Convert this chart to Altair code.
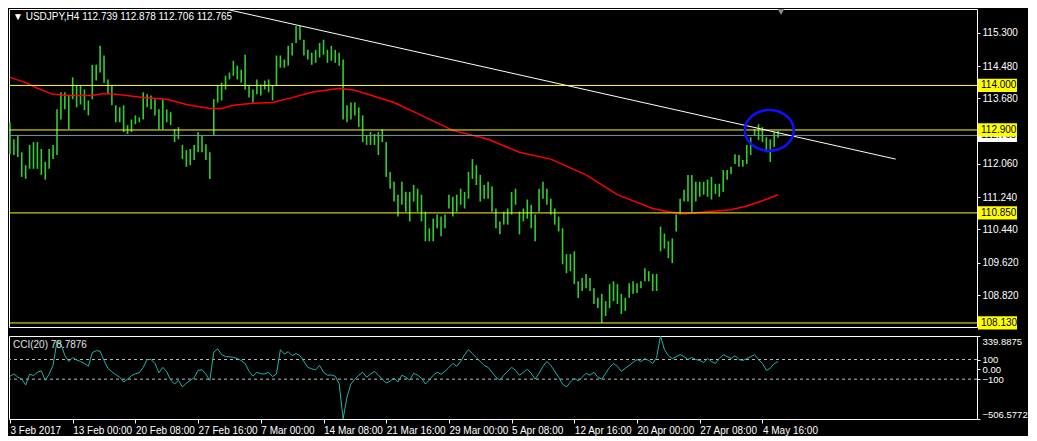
import json
import altair as alt
import pandas as pd

# ---------------- data ----------------
HIGH = [113.09,112.67,112.77,112.35,112.03,112.53,112.60,112.60,112.43,112.11,
        112.43,112.53,113.41,113.83,113.83,113.75,114.20,114.00,114.00,113.90,
        113.63,114.51,114.51,114.98,114.74,114.15,114.00,113.51,113.46,113.51,
        113.02,113.16,113.26,113.21,113.83,113.78,113.75,113.66,113.41,113.66,
        113.41,113.34,112.92,112.97,112.53,112.40,112.43,112.53,112.85,112.77,
        112.55,112.35,113.66,114.00,114.07,114.24,114.32,114.61,114.49,114.39,
        114.76,114.00,113.90,114.15,114.02,114.12,114.15,114.00,114.74,114.74,
        114.64,114.98,115.05,115.47,115.47,115.13,114.88,114.81,114.88,115.05,
        115.13,114.88,114.98,114.88,114.81,114.64,113.51,113.58,113.58,113.46,
        113.26,112.77,112.85,112.80,112.85,112.92,112.60,111.86,111.62,111.30,
        111.62,111.37,111.37,111.54,111.45,111.30,110.88,110.47,110.71,110.81,
        110.76,110.81,111.30,111.25,111.30,111.45,111.37,111.86,112.18,112.03,
        111.79,111.54,111.62,111.50,110.96,110.64,110.88,110.96,111.37,111.45,
        110.88,110.96,111.18,111.05,110.81,111.45,111.62,111.45,111.20,110.96,
        110.76,110.47,109.83,109.83,109.90,109.16,109.24,109.34,109.24,108.99,
        108.75,108.85,108.67,109.09,109.16,109.09,108.85,108.75,109.11,109.16,
        109.11,109.16,109.48,109.41,109.34,109.34,110.51,110.34,110.15,110.22,
        110.81,111.20,111.42,111.79,111.79,111.62,111.62,111.62,111.67,111.74,
        111.57,111.57,111.91,111.91,111.99,112.30,112.28,112.16,112.53,112.72,
        112.92,113.04,112.97,112.72,112.67,112.85,112.88]

LOW = [112.30,112.28,112.23,111.74,111.69,111.94,111.94,111.94,111.79,111.67,
       111.94,112.18,112.28,113.16,113.41,112.92,113.66,113.46,113.53,113.39,
       113.26,113.66,114.12,114.32,114.07,113.78,113.51,113.09,113.09,112.85,
       112.80,112.85,113.04,113.09,113.16,113.46,113.41,113.26,112.92,112.92,
       113.09,113.02,112.60,112.67,112.18,111.99,112.03,112.16,112.35,112.35,
       112.16,111.69,112.77,113.58,113.63,113.90,114.15,114.24,114.15,114.07,
       113.90,113.70,113.58,113.78,113.75,113.90,113.83,113.63,114.00,114.44,
       114.44,114.49,114.74,115.05,115.13,114.74,114.64,114.51,114.56,114.69,
       114.76,114.56,114.61,114.56,114.49,113.16,113.09,113.16,113.26,112.97,
       112.60,112.53,112.53,112.53,112.28,112.60,111.74,111.45,111.13,110.76,
       111.05,110.88,110.64,111.13,110.88,110.64,110.15,110.15,110.15,110.47,
       110.27,110.47,110.96,110.76,110.88,111.05,110.96,111.20,111.69,111.54,
       111.13,111.20,111.20,110.88,110.47,110.32,110.56,110.56,110.81,111.05,
       110.32,110.64,110.71,110.47,110.15,110.88,111.20,111.05,110.81,110.56,
       110.39,109.58,109.36,109.41,109.09,108.75,108.92,108.99,108.92,108.60,
       108.50,108.13,108.30,108.50,108.67,108.60,108.35,108.43,108.75,108.85,
       108.87,108.99,109.16,109.16,108.92,108.92,109.90,109.97,109.73,109.61,
       110.39,110.81,111.13,111.13,110.88,111.13,111.25,111.30,111.25,111.18,
       111.32,111.25,111.37,111.67,111.81,112.06,111.99,111.99,112.06,112.28,
       112.77,112.65,112.60,112.35,112.11,112.48,112.71]

CCI = [-70,-47,-80,-100,-160,-50,-63,-30,-15,-113,
       -50,40,290,260,140,80,120,95,80,60,
       30,170,190,185,90,10,-25,-55,-80,-130,
       -100,-65,-45,-35,20,100,100,60,-35,20,
       -25,-110,-150,-113,-180,-140,-113,-85,-10,-5,
       -50,-113,175,210,150,130,127,123,110,90,
       60,-20,-70,-30,-45,-47,-30,-75,-47,200,
       155,180,140,160,140,80,20,5,-5,40,
       -30,-60,-58,-70,-147,-506.58,-280,-150,-100,-60,
       -30,-80,-50,-20,-60,-100,-140,-120,-90,-130,
       -60,-80,-110,-40,-60,-90,-150,-110,-60,-30,
       -50,-20,20,60,30,80,150,200,160,120,
       80,40,20,-30,-80,-110,-60,-20,20,-10,
       -60,-30,0,-40,-100,-40,30,80,40,-20,
       -80,-150,-180,-130,-90,-120,-80,-40,-60,-30,
       -80,-100,-40,20,60,30,-20,10,40,70,
       100,80,110,90,60,120,339.89,200,140,110,
       130,150,130,100,120,100,90,70,110,80,
       60,110,150,130,110,140,100,90,110,130,
       150,100,60,-10,10,60,78.79]

MA_IDX = [0,4,7,11,15,21,24,27,34,40,45,51,54,57,62,67,72,77,82,84,88,98,105,
          113,122,130,138,147,155,164,168,172,176,184,188,192,196]
MA_VAL = [114.20,114.07,113.93,113.78,113.75,113.75,113.80,113.78,113.70,113.66,
          113.53,113.43,113.43,113.51,113.56,113.58,113.70,113.83,113.90,113.93,
          113.88,113.58,113.26,112.89,112.67,112.35,112.18,111.79,111.30,110.96,
          110.88,110.83,110.86,110.93,111.02,111.15,111.30]

LEVELS = [114.000, 112.900, 110.850, 108.130]
BID = 112.765
TREND_IDX = [54.0, 226.0]
TREND_VAL = [115.91, 112.18]
CIRCLE_IDX = [193.75]
CIRCLE_VAL = [112.89]

PRICE_TICKS = [115.300, 114.480, 113.680, 112.060, 111.240,
               110.440, 109.620, 108.820, 108.000]
CCI_TICKS = [339.8875, 100, 0, -100, -506.5772]
X_TICKS = [0, 16, 32, 48, 64, 80, 96, 112, 128, 144, 160, 176, 192]
X_LABELS = ["3 Feb 2017", "13 Feb 00:00", "20 Feb 08:00", "27 Feb 16:00",
            "7 Mar 00:00", "14 Mar 08:00", "21 Mar 16:00", "29 Mar 00:00",
            "5 Apr 08:00", "12 Apr 16:00", "20 Apr 00:00", "27 Apr 08:00",
            "4 May 16:00"]

TITLE = "\u25bc USDJPY,H4  112.739 112.878 112.706 112.765"
CCI_TITLE = "CCI(20) 78.7876"

# ---------------- layout / style ----------------
W = 968
H1 = 318
H2 = 83
FONT = "Liberation Sans"
XDOM = [-0.25, 246.75]
PDOM = [108.03, 115.89]
CDOM = [-506.5772, 339.8875]

RECT = "M -1 -0.34 L 1 -0.34 L 1 0.34 L -1 0.34 Z"
ELLIPSE = ("M 1.2 0 C 1.2 0.5523 0.6628 1 0 1 C -0.6628 1 -1.2 0.5523 -1.2 0 "
           "C -1.2 -0.5523 -0.6628 -1 0 -1 C 0.6628 -1 1.2 -0.5523 1.2 0 Z")

xs = alt.Scale(domain=XDOM, nice=False, zero=False)
ps = alt.Scale(domain=PDOM, nice=False, zero=False)
cs = alt.Scale(domain=CDOM, nice=False, zero=False)

bars_df = pd.DataFrame({"i": list(range(len(HIGH))), "high": HIGH, "low": LOW, "cci": CCI})
ma_df = pd.DataFrame({"i": MA_IDX, "p": MA_VAL})
lev_df = pd.DataFrame({"p": LEVELS, "t": ["%.3f" % v for v in LEVELS]})
bid_df = pd.DataFrame({"p": [BID], "t": ["%.3f" % BID]})
trend_df = pd.DataFrame({"i": TREND_IDX, "p": TREND_VAL})
circ_df = pd.DataFrame({"i": CIRCLE_IDX, "p": CIRCLE_VAL})

price_axis = alt.Axis(orient="right", values=PRICE_TICKS, format=".3f", title=None,
                      grid=False, domain=False, tickSize=3, tickColor="#ffffff",
                      labelColor="#ffffff", labelPadding=2, labelFontSize=10,
                      labelFont=FONT, labelOverlap=False)

bars = alt.Chart(bars_df).mark_rule(color="#32cd32", strokeWidth=1.6, clip=True).encode(
    x=alt.X("i:Q", scale=xs, axis=None),
    y=alt.Y("high:Q", scale=ps, axis=price_axis),
    y2="low:Q",
)
ma = alt.Chart(ma_df).mark_line(color="#ff0000", strokeWidth=1.5, clip=True).encode(
    x=alt.X("i:Q", scale=xs, axis=None),
    y=alt.Y("p:Q", scale=ps, axis=None),
)
levels = alt.Chart(lev_df).mark_rule(color="#ffff00", strokeWidth=1).encode(
    y=alt.Y("p:Q", scale=ps, axis=None))
bid = alt.Chart(bid_df).mark_rule(color="#8090a0", strokeWidth=1).encode(
    y=alt.Y("p:Q", scale=ps, axis=None))
trend = alt.Chart(trend_df).mark_line(color="#ffffff", strokeWidth=1, clip=True).encode(
    x=alt.X("i:Q", scale=xs, axis=None),
    y=alt.Y("p:Q", scale=ps, axis=None),
)
circle = alt.Chart(circ_df).mark_point(shape=ELLIPSE, size=1666, filled=False,
                                       color="#1010ff", strokeWidth=2.5, opacity=1).encode(
    x=alt.X("i:Q", scale=xs, axis=None),
    y=alt.Y("p:Q", scale=ps, axis=None),
)
bid_box = alt.Chart(bid_df).mark_point(shape=RECT, size=39 * 39, filled=True,
                                       color="#ffffff", opacity=1, strokeWidth=0).encode(
    x=alt.value(W + 20.5), y=alt.Y("p:Q", scale=ps, axis=None))
bid_txt = alt.Chart(bid_df).mark_text(align="left", baseline="middle", color="#000000",
                                      fontSize=10, font=FONT).encode(
    x=alt.value(W + 4), y=alt.Y("p:Q", scale=ps, axis=None), text="t:N")
lev_box = alt.Chart(lev_df).mark_point(shape=RECT, size=39 * 39, filled=True,
                                       color="#ffff00", opacity=1, strokeWidth=0).encode(
    x=alt.value(W + 20.5), y=alt.Y("p:Q", scale=ps, axis=None))
lev_txt = alt.Chart(lev_df).mark_text(align="left", baseline="middle", color="#000000",
                                      fontSize=10, font=FONT).encode(
    x=alt.value(W + 4), y=alt.Y("p:Q", scale=ps, axis=None), text="t:N")
title = alt.Chart(pd.DataFrame({"t": [TITLE]})).mark_text(
    align="left", baseline="middle", color="#ffffff", fontSize=10, font=FONT).encode(
    x=alt.value(4), y=alt.value(8), text="t:N")
shift_mark = alt.Chart(pd.DataFrame({"t": [0]})).mark_point(
    shape="triangle-down", filled=True, color="#8a8a8a", size=45, opacity=1).encode(
    x=alt.value(772), y=alt.value(3))

main = alt.layer(bars, ma, levels, bid, trend, circle, bid_box, bid_txt,
                 lev_box, lev_txt, title, shift_mark).resolve_axis(
    y="independent", x="independent").properties(width=W, height=H1)

x_expr = json.dumps(X_LABELS) + "[round(datum.value / 16)]"
cci_expr = ("datum.value == 0 ? '0.00' : (abs(datum.value) == 100 ? "
            "format(datum.value, 'd') : format(datum.value, '.4f'))")

cci_line = alt.Chart(bars_df).mark_line(color="#20b2aa", strokeWidth=1, clip=True).encode(
    x=alt.X("i:Q", scale=xs, axis=alt.Axis(
        orient="bottom", values=X_TICKS, labelExpr=x_expr, labelAlign="left",
        labelFlush=False, labelOverlap=False, title=None, grid=False, domain=False,
        tickSize=4, tickColor="#ffffff", labelColor="#ffffff", labelPadding=2,
        labelFontSize=10, labelFont=FONT)),
    y=alt.Y("cci:Q", scale=cs, axis=alt.Axis(
        orient="right", values=CCI_TICKS, labelExpr=cci_expr, labelFlush=True,
        labelOverlap=False, title=None, grid=False, domain=False, tickSize=3,
        tickColor="#ffffff", labelColor="#ffffff", labelPadding=2,
        labelFontSize=9.5, labelFont=FONT)),
)
cci_lvls = alt.Chart(pd.DataFrame({"v": [100, -100]})).mark_rule(
    color="#bbbbbb", strokeDash=[3, 3], strokeWidth=1).encode(
    y=alt.Y("v:Q", scale=cs, axis=None))
cci_title = alt.Chart(pd.DataFrame({"t": [CCI_TITLE]})).mark_text(
    align="left", baseline="middle", color="#e0e0e0", fontSize=10, font=FONT).encode(
    x=alt.value(4), y=alt.value(9), text="t:N")

sub = alt.layer(cci_lvls, cci_line, cci_title).resolve_axis(
    y="independent", x="independent").properties(width=W, height=H2)

chart = alt.vconcat(main, sub, spacing=4).properties(
    padding=0, background="#000000"
).configure_view(stroke="#ffffff", strokeWidth=1)

chart.save("out.html", embed_options={"renderer": "svg", "actions": False})
